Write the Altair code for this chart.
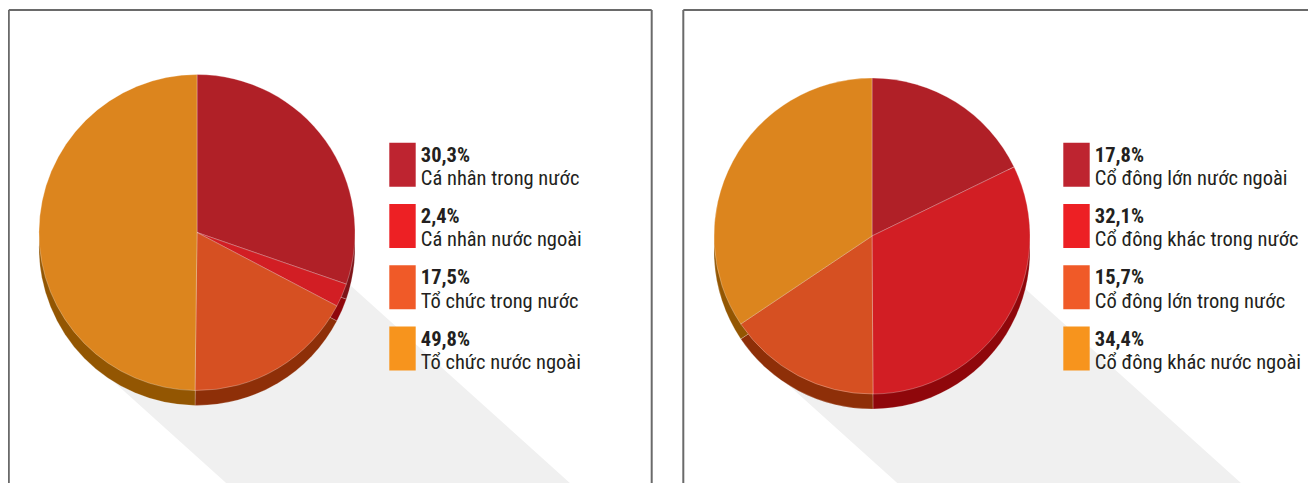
import altair as alt
import pandas as pd

# ---------------- data ----------------
left_labels = ["Cá nhân trong nước", "Cá nhân nước ngoài", "Tổ chức trong nước", "Tổ chức nước ngoài"]
left_values = [30.3, 2.4, 17.5, 49.8]

right_labels = ["Cổ đông lớn nước ngoài", "Cổ đông khác trong nước", "Cổ đông lớn trong nước", "Cổ đông khác nước ngoài"]
right_values = [17.8, 32.1, 15.7, 34.4]

top_colors = ["#B02027", "#D21E24", "#D65022", "#DC851E"]
rim_colors = ["#7E1418", "#8F070B", "#8E2F08", "#935602"]
legend_colors = ["#BE2430", "#ED2024", "#F05A28", "#F7941D"]

# ---------------- layout (chart pixel coords; page = chart + 8) ----------------
W, H = 1300, 475
FONT = "Liberation Sans Narrow, Roboto Condensed, DejaVu Sans Condensed, Arial Narrow, sans-serif"
FS = 20.5
R = 158
RIM = 15

xs = alt.Scale(domain=[0, W], range=[0, W])
ys = alt.Scale(domain=[0, H], range=[0, H])


def X(f):
    return alt.X(f, type="quantitative", scale=xs, axis=None)


def Y(f):
    return alt.Y(f, type="quantitative", scale=ys, axis=None)


def panel(labels, values, cx, cy, lx, border_left, border_right):
    n = len(values)
    df = pd.DataFrame({
        "idx": list(range(n)),
        "value": values,
        "label": labels,
        "pct": [f"{v:.1f}".replace(".", ",") + "%" for v in values],
        "top": top_colors,
        "rim": rim_colors,
        "leg": legend_colors,
    })
    step = 61.3
    df["lx"] = lx
    df["lx2"] = lx + 26.4
    df["ly"] = [134.7 + i * step for i in range(n)]
    df["ly2"] = df["ly"] + 44
    df["tx"] = lx + 31.5
    df["py"] = [153.7 + i * step for i in range(n)]
    df["ty"] = [177.0 + i * step for i in range(n)]

    # long shadow (decoration)
    dx, dy = 0.743, 0.669
    sx0, sy0 = cx - 35, cy + 38
    shadow_df = pd.DataFrame({"x": [sx0], "y": [sy0], "x2": [sx0 + 600 * dx], "y2": [sy0 + 600 * dy]})
    shadow = alt.Chart(shadow_df).mark_rule(
        strokeWidth=230, color="#F0F0F0", strokeCap="butt", clip=True
    ).encode(x=X("x"), y=Y("y"), x2="x2:Q", y2="y2:Q")

    # panel border (decoration)
    segs = [
        (border_left, 2, border_right, 2),
        (border_left, 2, border_left, H),
    ]
    if border_right < W:
        segs.append((border_right, 2, border_right, H))
    border_df = pd.DataFrame(segs, columns=["x", "y", "x2", "y2"])
    border = alt.Chart(border_df).mark_rule(
        strokeWidth=2, color="#6A6A6A", clip=True
    ).encode(x=X("x"), y=Y("y"), x2="x2:Q", y2="y2:Q")

    rim = alt.Chart(df).mark_arc(
        radius=R, x=cx, y=cy + RIM, stroke="#ffffff", strokeWidth=0.6, strokeOpacity=0.35
    ).encode(
        theta=alt.Theta("value:Q", stack=True),
        color=alt.Color("rim:N", scale=None),
        order=alt.Order("idx:Q"),
    )
    top = alt.Chart(df).mark_arc(
        radius=R, x=cx, y=cy, stroke="#ffffff", strokeWidth=0.7, strokeOpacity=0.4
    ).encode(
        theta=alt.Theta("value:Q", stack=True),
        color=alt.Color("top:N", scale=None),
        order=alt.Order("idx:Q"),
    )

    squares = alt.Chart(df).mark_rect().encode(
        x=X("lx"), x2="lx2:Q", y=Y("ly"), y2="ly2:Q",
        color=alt.Color("leg:N", scale=None),
    )
    pct = alt.Chart(df).mark_text(
        align="left", baseline="alphabetic", font=FONT, fontSize=FS,
        fontWeight="bold", color="#231F20"
    ).encode(x=X("tx"), y=Y("py"), text="pct:N")
    lab = alt.Chart(df).mark_text(
        align="left", baseline="alphabetic", font=FONT, fontSize=FS,
        color="#231F20"
    ).encode(x=X("tx"), y=Y("ty"), text="label:N")

    return [shadow, border, rim, top, squares, pct, lab]


layers = []
layers += panel(left_labels, left_values, cx=189, cy=224.5, lx=381.3, border_left=0.8, border_right=643.7)
layers += panel(right_labels, right_values, cx=864, cy=228, lx=1055.3, border_left=675.3, border_right=1400)

chart = alt.layer(*layers).properties(
    width=W, height=H, padding=0,
    autosize=alt.AutoSizeParams(type="none"),
).configure_view(stroke=None)

chart.save("out.html", embed_options={"renderer": "svg", "actions": False})
